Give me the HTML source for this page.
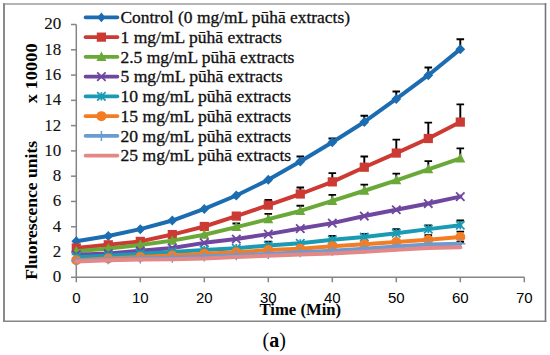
<!DOCTYPE html>
<html><head><meta charset="utf-8"><style>
html,body{margin:0;padding:0;background:#fff;}
svg{display:block;}
.yl{font-family:"Liberation Serif",serif;font-size:17px;fill:#111;stroke:#111;stroke-width:0.12px;}
.xl{font-family:"Liberation Sans",sans-serif;font-size:15px;fill:#000;}
.lg{font-family:"Liberation Serif",serif;font-size:17px;fill:#111;stroke:#111;stroke-width:0.3px;}
.yt,.xt{font-family:"Liberation Serif",serif;font-size:17px;font-weight:bold;fill:#000;}
.cap{font-family:"Liberation Serif",serif;font-size:20px;fill:#000;}
</style></head><body>
<svg width="550" height="355" viewBox="0 0 550 355">
<path d="M3 4H546.3" stroke="#b5b5b5" stroke-width="1.8"/>
<path d="M4 3.2V322.1" stroke="#8a8a8a" stroke-width="2"/>
<path d="M545.5 3.2V322.1" stroke="#767676" stroke-width="1.6"/>
<path d="M3 321.2H546.3" stroke="#858585" stroke-width="1.4"/>
<path d="M76.3 24.5V277.3H524.5" fill="none" stroke="#858585" stroke-width="1.5"/>
<path d="M71 277.30H76.3" stroke="#858585" stroke-width="1.5"/>
<text x="61.2" y="282.20" text-anchor="end" class="yl">0</text>
<path d="M71 252.02H76.3" stroke="#858585" stroke-width="1.5"/>
<text x="61.2" y="256.92" text-anchor="end" class="yl">2</text>
<path d="M71 226.74H76.3" stroke="#858585" stroke-width="1.5"/>
<text x="61.2" y="231.64" text-anchor="end" class="yl">4</text>
<path d="M71 201.46H76.3" stroke="#858585" stroke-width="1.5"/>
<text x="61.2" y="206.36" text-anchor="end" class="yl">6</text>
<path d="M71 176.18H76.3" stroke="#858585" stroke-width="1.5"/>
<text x="61.2" y="181.08" text-anchor="end" class="yl">8</text>
<path d="M71 150.90H76.3" stroke="#858585" stroke-width="1.5"/>
<text x="61.2" y="155.80" text-anchor="end" class="yl">10</text>
<path d="M71 125.62H76.3" stroke="#858585" stroke-width="1.5"/>
<text x="61.2" y="130.52" text-anchor="end" class="yl">12</text>
<path d="M71 100.34H76.3" stroke="#858585" stroke-width="1.5"/>
<text x="61.2" y="105.24" text-anchor="end" class="yl">14</text>
<path d="M71 75.06H76.3" stroke="#858585" stroke-width="1.5"/>
<text x="61.2" y="79.96" text-anchor="end" class="yl">16</text>
<path d="M71 49.78H76.3" stroke="#858585" stroke-width="1.5"/>
<text x="61.2" y="54.68" text-anchor="end" class="yl">18</text>
<path d="M71 24.50H76.3" stroke="#858585" stroke-width="1.5"/>
<text x="61.2" y="29.40" text-anchor="end" class="yl">20</text>
<path d="M76.30 277.3V282.3" stroke="#858585" stroke-width="1.5"/>
<text x="76.30" y="302.6" text-anchor="middle" class="xl">0</text>
<path d="M140.30 277.3V282.3" stroke="#858585" stroke-width="1.5"/>
<text x="140.30" y="302.6" text-anchor="middle" class="xl">10</text>
<path d="M204.30 277.3V282.3" stroke="#858585" stroke-width="1.5"/>
<text x="204.30" y="302.6" text-anchor="middle" class="xl">20</text>
<path d="M268.30 277.3V282.3" stroke="#858585" stroke-width="1.5"/>
<text x="268.30" y="302.6" text-anchor="middle" class="xl">30</text>
<path d="M332.30 277.3V282.3" stroke="#858585" stroke-width="1.5"/>
<text x="332.30" y="302.6" text-anchor="middle" class="xl">40</text>
<path d="M396.30 277.3V282.3" stroke="#858585" stroke-width="1.5"/>
<text x="396.30" y="302.6" text-anchor="middle" class="xl">50</text>
<path d="M460.30 277.3V282.3" stroke="#858585" stroke-width="1.5"/>
<text x="460.30" y="302.6" text-anchor="middle" class="xl">60</text>
<path d="M524.30 277.3V282.3" stroke="#858585" stroke-width="1.5"/>
<text x="524.30" y="302.6" text-anchor="middle" class="xl">70</text>
<path d="M300.30 161.52V156.46M296.50 156.46H304.10" stroke="#000" stroke-width="1.9" fill="none"/>
<path d="M332.30 142.18V138.51M328.50 138.51H336.10" stroke="#000" stroke-width="1.9" fill="none"/>
<path d="M364.30 121.95V115.76M360.50 115.76H368.10" stroke="#000" stroke-width="1.9" fill="none"/>
<path d="M396.30 98.95V91.49M392.50 91.49H400.10" stroke="#000" stroke-width="1.9" fill="none"/>
<path d="M428.30 75.19V67.48M424.50 67.48H432.10" stroke="#000" stroke-width="1.9" fill="none"/>
<path d="M460.30 49.15V39.29M456.50 39.29H464.10" stroke="#000" stroke-width="1.9" fill="none"/>
<polyline points="76.30,241.28 108.30,235.97 140.30,229.14 172.30,220.55 204.30,208.92 236.30,195.52 268.30,179.85 300.30,161.52 332.30,142.18 364.30,121.95 396.30,98.95 428.30,75.19 460.30,49.15" fill="none" stroke="#1c6cb1" stroke-width="4" stroke-linejoin="round" stroke-linecap="round"/>
<path d="M76.30 236.28L81.20 241.28L76.30 246.28L71.40 241.28Z" fill="#1c6cb1"/>
<path d="M108.30 230.97L113.20 235.97L108.30 240.97L103.40 235.97Z" fill="#1c6cb1"/>
<path d="M140.30 224.14L145.20 229.14L140.30 234.14L135.40 229.14Z" fill="#1c6cb1"/>
<path d="M172.30 215.55L177.20 220.55L172.30 225.55L167.40 220.55Z" fill="#1c6cb1"/>
<path d="M204.30 203.92L209.20 208.92L204.30 213.92L199.40 208.92Z" fill="#1c6cb1"/>
<path d="M236.30 190.52L241.20 195.52L236.30 200.52L231.40 195.52Z" fill="#1c6cb1"/>
<path d="M268.30 174.85L273.20 179.85L268.30 184.85L263.40 179.85Z" fill="#1c6cb1"/>
<path d="M300.30 156.52L305.20 161.52L300.30 166.52L295.40 161.52Z" fill="#1c6cb1"/>
<path d="M332.30 137.18L337.20 142.18L332.30 147.18L327.40 142.18Z" fill="#1c6cb1"/>
<path d="M364.30 116.95L369.20 121.95L364.30 126.95L359.40 121.95Z" fill="#1c6cb1"/>
<path d="M396.30 93.95L401.20 98.95L396.30 103.95L391.40 98.95Z" fill="#1c6cb1"/>
<path d="M428.30 70.19L433.20 75.19L428.30 80.19L423.40 75.19Z" fill="#1c6cb1"/>
<path d="M460.30 44.15L465.20 49.15L460.30 54.15L455.40 49.15Z" fill="#1c6cb1"/>
<path d="M268.30 205.13V200.07M264.50 200.07H272.10" stroke="#000" stroke-width="1.9" fill="none"/>
<path d="M300.30 194.00V187.56M296.50 187.56H304.10" stroke="#000" stroke-width="1.9" fill="none"/>
<path d="M332.30 181.87V173.15M328.50 173.15H336.10" stroke="#000" stroke-width="1.9" fill="none"/>
<path d="M364.30 167.21V156.46M360.50 156.46H368.10" stroke="#000" stroke-width="1.9" fill="none"/>
<path d="M396.30 153.05V139.65M392.50 139.65H400.10" stroke="#000" stroke-width="1.9" fill="none"/>
<path d="M428.30 138.51V122.59M424.50 122.59H432.10" stroke="#000" stroke-width="1.9" fill="none"/>
<path d="M460.30 122.08V104.38M456.50 104.38H464.10" stroke="#000" stroke-width="1.9" fill="none"/>
<polyline points="76.30,247.98 108.30,244.82 140.30,241.40 172.30,234.58 204.30,226.49 236.30,216.12 268.30,205.13 300.30,194.00 332.30,181.87 364.30,167.21 396.30,153.05 428.30,138.51 460.30,122.08" fill="none" stroke="#cc3a33" stroke-width="4" stroke-linejoin="round" stroke-linecap="round"/>
<rect x="71.70" y="243.38" width="9.2" height="9.2" fill="#cc3a33"/>
<rect x="103.70" y="240.22" width="9.2" height="9.2" fill="#cc3a33"/>
<rect x="135.70" y="236.80" width="9.2" height="9.2" fill="#cc3a33"/>
<rect x="167.70" y="229.98" width="9.2" height="9.2" fill="#cc3a33"/>
<rect x="199.70" y="221.89" width="9.2" height="9.2" fill="#cc3a33"/>
<rect x="231.70" y="211.52" width="9.2" height="9.2" fill="#cc3a33"/>
<rect x="263.70" y="200.53" width="9.2" height="9.2" fill="#cc3a33"/>
<rect x="295.70" y="189.40" width="9.2" height="9.2" fill="#cc3a33"/>
<rect x="327.70" y="177.27" width="9.2" height="9.2" fill="#cc3a33"/>
<rect x="359.70" y="162.61" width="9.2" height="9.2" fill="#cc3a33"/>
<rect x="391.70" y="148.45" width="9.2" height="9.2" fill="#cc3a33"/>
<rect x="423.70" y="133.91" width="9.2" height="9.2" fill="#cc3a33"/>
<rect x="455.70" y="117.48" width="9.2" height="9.2" fill="#cc3a33"/>
<path d="M236.30 227.12V223.45M232.50 223.45H240.10" stroke="#000" stroke-width="1.9" fill="none"/>
<path d="M268.30 219.16V213.85M264.50 213.85H272.10" stroke="#000" stroke-width="1.9" fill="none"/>
<path d="M300.30 210.94V205.76M296.50 205.76H304.10" stroke="#000" stroke-width="1.9" fill="none"/>
<path d="M332.30 200.95V194.89M328.50 194.89H336.10" stroke="#000" stroke-width="1.9" fill="none"/>
<path d="M364.30 190.72V184.65M360.50 184.65H368.10" stroke="#000" stroke-width="1.9" fill="none"/>
<path d="M396.30 180.35V173.65M392.50 173.65H400.10" stroke="#000" stroke-width="1.9" fill="none"/>
<path d="M428.30 169.35V161.14M424.50 161.14H432.10" stroke="#000" stroke-width="1.9" fill="none"/>
<path d="M460.30 158.48V148.37M456.50 148.37H464.10" stroke="#000" stroke-width="1.9" fill="none"/>
<polyline points="76.30,251.26 108.30,248.48 140.30,245.07 172.30,240.64 204.30,234.70 236.30,227.12 268.30,219.16 300.30,210.94 332.30,200.95 364.30,190.72 396.30,180.35 428.30,169.35 460.30,158.48" fill="none" stroke="#6aa938" stroke-width="4" stroke-linejoin="round" stroke-linecap="round"/>
<path d="M76.30 245.76L81.30 255.26L71.30 255.26Z" fill="#6aa938"/>
<path d="M108.30 242.98L113.30 252.48L103.30 252.48Z" fill="#6aa938"/>
<path d="M140.30 239.57L145.30 249.07L135.30 249.07Z" fill="#6aa938"/>
<path d="M172.30 235.14L177.30 244.64L167.30 244.64Z" fill="#6aa938"/>
<path d="M204.30 229.20L209.30 238.70L199.30 238.70Z" fill="#6aa938"/>
<path d="M236.30 221.62L241.30 231.12L231.30 231.12Z" fill="#6aa938"/>
<path d="M268.30 213.66L273.30 223.16L263.30 223.16Z" fill="#6aa938"/>
<path d="M300.30 205.44L305.30 214.94L295.30 214.94Z" fill="#6aa938"/>
<path d="M332.30 195.45L337.30 204.95L327.30 204.95Z" fill="#6aa938"/>
<path d="M364.30 185.22L369.30 194.72L359.30 194.72Z" fill="#6aa938"/>
<path d="M396.30 174.85L401.30 184.35L391.30 184.35Z" fill="#6aa938"/>
<path d="M428.30 163.85L433.30 173.35L423.30 173.35Z" fill="#6aa938"/>
<path d="M460.30 152.98L465.30 162.48L455.30 162.48Z" fill="#6aa938"/>
<polyline points="76.30,254.67 108.30,253.54 140.30,250.76 172.30,247.98 204.30,242.86 236.30,239.06 268.30,234.13 300.30,228.57 332.30,223.14 364.30,216.06 396.30,209.74 428.30,203.55 460.30,196.59" fill="none" stroke="#6f47a0" stroke-width="4" stroke-linejoin="round" stroke-linecap="round"/>
<path d="M72.10 250.47L80.50 258.87M80.50 250.47L72.10 258.87" stroke="#6f47a0" stroke-width="1.8"/>
<path d="M104.10 249.34L112.50 257.74M112.50 249.34L104.10 257.74" stroke="#6f47a0" stroke-width="1.8"/>
<path d="M136.10 246.56L144.50 254.96M144.50 246.56L136.10 254.96" stroke="#6f47a0" stroke-width="1.8"/>
<path d="M168.10 243.78L176.50 252.18M176.50 243.78L168.10 252.18" stroke="#6f47a0" stroke-width="1.8"/>
<path d="M200.10 238.66L208.50 247.06M208.50 238.66L200.10 247.06" stroke="#6f47a0" stroke-width="1.8"/>
<path d="M232.10 234.86L240.50 243.26M240.50 234.86L232.10 243.26" stroke="#6f47a0" stroke-width="1.8"/>
<path d="M264.10 229.93L272.50 238.33M272.50 229.93L264.10 238.33" stroke="#6f47a0" stroke-width="1.8"/>
<path d="M296.10 224.37L304.50 232.77M304.50 224.37L296.10 232.77" stroke="#6f47a0" stroke-width="1.8"/>
<path d="M328.10 218.94L336.50 227.34M336.50 218.94L328.10 227.34" stroke="#6f47a0" stroke-width="1.8"/>
<path d="M360.10 211.86L368.50 220.26M368.50 211.86L360.10 220.26" stroke="#6f47a0" stroke-width="1.8"/>
<path d="M392.10 205.54L400.50 213.94M400.50 205.54L392.10 213.94" stroke="#6f47a0" stroke-width="1.8"/>
<path d="M424.10 199.35L432.50 207.75M432.50 199.35L424.10 207.75" stroke="#6f47a0" stroke-width="1.8"/>
<path d="M456.10 192.39L464.50 200.79M464.50 192.39L456.10 200.79" stroke="#6f47a0" stroke-width="1.8"/>
<path d="M268.30 245.51V241.66M264.50 241.66H272.10" stroke="#000" stroke-width="1.9" fill="none"/>
<path d="M332.30 239.82V235.97M328.50 235.97H336.10" stroke="#000" stroke-width="1.9" fill="none"/>
<path d="M364.30 236.98V233.94M360.50 233.94H368.10" stroke="#000" stroke-width="1.9" fill="none"/>
<path d="M396.30 233.19V229.27M392.50 229.27H400.10" stroke="#000" stroke-width="1.9" fill="none"/>
<path d="M428.30 229.14V225.48M424.50 225.48H432.10" stroke="#000" stroke-width="1.9" fill="none"/>
<path d="M460.30 225.22V220.55M456.50 220.55H464.10" stroke="#000" stroke-width="1.9" fill="none"/>
<polyline points="76.30,256.95 108.30,255.81 140.30,253.66 172.30,251.89 204.30,249.93 236.30,248.29 268.30,245.51 300.30,243.36 332.30,239.82 364.30,236.98 396.30,233.19 428.30,229.14 460.30,225.22" fill="none" stroke="#1a9bb4" stroke-width="4" stroke-linejoin="round" stroke-linecap="round"/>
<path d="M72.10 252.75L80.50 261.15M80.50 252.75L72.10 261.15M76.30 252.75L76.30 261.15" stroke="#1a9bb4" stroke-width="1.8"/>
<path d="M104.10 251.61L112.50 260.01M112.50 251.61L104.10 260.01M108.30 251.61L108.30 260.01" stroke="#1a9bb4" stroke-width="1.8"/>
<path d="M136.10 249.46L144.50 257.86M144.50 249.46L136.10 257.86M140.30 249.46L140.30 257.86" stroke="#1a9bb4" stroke-width="1.8"/>
<path d="M168.10 247.69L176.50 256.09M176.50 247.69L168.10 256.09M172.30 247.69L172.30 256.09" stroke="#1a9bb4" stroke-width="1.8"/>
<path d="M200.10 245.73L208.50 254.13M208.50 245.73L200.10 254.13M204.30 245.73L204.30 254.13" stroke="#1a9bb4" stroke-width="1.8"/>
<path d="M232.10 244.09L240.50 252.49M240.50 244.09L232.10 252.49M236.30 244.09L236.30 252.49" stroke="#1a9bb4" stroke-width="1.8"/>
<path d="M264.10 241.31L272.50 249.71M272.50 241.31L264.10 249.71M268.30 241.31L268.30 249.71" stroke="#1a9bb4" stroke-width="1.8"/>
<path d="M296.10 239.16L304.50 247.56M304.50 239.16L296.10 247.56M300.30 239.16L300.30 247.56" stroke="#1a9bb4" stroke-width="1.8"/>
<path d="M328.10 235.62L336.50 244.02M336.50 235.62L328.10 244.02M332.30 235.62L332.30 244.02" stroke="#1a9bb4" stroke-width="1.8"/>
<path d="M360.10 232.78L368.50 241.18M368.50 232.78L360.10 241.18M364.30 232.78L364.30 241.18" stroke="#1a9bb4" stroke-width="1.8"/>
<path d="M392.10 228.99L400.50 237.39M400.50 228.99L392.10 237.39M396.30 228.99L396.30 237.39" stroke="#1a9bb4" stroke-width="1.8"/>
<path d="M424.10 224.94L432.50 233.34M432.50 224.94L424.10 233.34M428.30 224.94L428.30 233.34" stroke="#1a9bb4" stroke-width="1.8"/>
<path d="M456.10 221.02L464.50 229.42M464.50 221.02L456.10 229.42M460.30 221.02L460.30 229.42" stroke="#1a9bb4" stroke-width="1.8"/>
<path d="M428.30 239.82V235.21M424.50 235.21H432.10" stroke="#000" stroke-width="1.9" fill="none"/>
<path d="M460.30 237.04V231.67M456.50 231.67H464.10" stroke="#000" stroke-width="1.9" fill="none"/>
<polyline points="76.30,260.24 108.30,258.47 140.30,257.08 172.30,255.56 204.30,253.73 236.30,252.21 268.30,250.06 300.30,248.67 332.30,246.27 364.30,244.25 396.30,241.97 428.30,239.82 460.30,237.04" fill="none" stroke="#f47d24" stroke-width="4" stroke-linejoin="round" stroke-linecap="round"/>
<circle cx="76.30" cy="260.24" r="5" fill="#f47d24"/>
<circle cx="108.30" cy="258.47" r="5" fill="#f47d24"/>
<circle cx="140.30" cy="257.08" r="5" fill="#f47d24"/>
<circle cx="172.30" cy="255.56" r="5" fill="#f47d24"/>
<circle cx="204.30" cy="253.73" r="5" fill="#f47d24"/>
<circle cx="236.30" cy="252.21" r="5" fill="#f47d24"/>
<circle cx="268.30" cy="250.06" r="5" fill="#f47d24"/>
<circle cx="300.30" cy="248.67" r="5" fill="#f47d24"/>
<circle cx="332.30" cy="246.27" r="5" fill="#f47d24"/>
<circle cx="364.30" cy="244.25" r="5" fill="#f47d24"/>
<circle cx="396.30" cy="241.97" r="5" fill="#f47d24"/>
<circle cx="428.30" cy="239.82" r="5" fill="#f47d24"/>
<circle cx="460.30" cy="237.04" r="5" fill="#f47d24"/>
<path d="M460.30 243.80V241.91M456.50 241.91H464.10" stroke="#000" stroke-width="1.9" fill="none"/>
<polyline points="76.30,260.87 108.30,259.35 140.30,258.59 172.30,257.71 204.30,256.44 236.30,255.18 268.30,253.92 300.30,252.15 332.30,250.76 364.30,248.86 396.30,246.58 428.30,244.56 460.30,243.80" fill="none" stroke="#6a9bd3" stroke-width="4" stroke-linejoin="round" stroke-linecap="round"/>
<path d="M76.30 255.87L76.30 265.87M71.30 260.87L81.30 260.87" stroke="#6a9bd3" stroke-width="1.5"/>
<path d="M108.30 254.35L108.30 264.35M103.30 259.35L113.30 259.35" stroke="#6a9bd3" stroke-width="1.5"/>
<path d="M140.30 253.59L140.30 263.59M135.30 258.59L145.30 258.59" stroke="#6a9bd3" stroke-width="1.5"/>
<path d="M172.30 252.71L172.30 262.71M167.30 257.71L177.30 257.71" stroke="#6a9bd3" stroke-width="1.5"/>
<path d="M204.30 251.44L204.30 261.44M199.30 256.44L209.30 256.44" stroke="#6a9bd3" stroke-width="1.5"/>
<path d="M236.30 250.18L236.30 260.18M231.30 255.18L241.30 255.18" stroke="#6a9bd3" stroke-width="1.5"/>
<path d="M268.30 248.92L268.30 258.92M263.30 253.92L273.30 253.92" stroke="#6a9bd3" stroke-width="1.5"/>
<path d="M300.30 247.15L300.30 257.15M295.30 252.15L305.30 252.15" stroke="#6a9bd3" stroke-width="1.5"/>
<path d="M332.30 245.76L332.30 255.76M327.30 250.76L337.30 250.76" stroke="#6a9bd3" stroke-width="1.5"/>
<path d="M364.30 243.86L364.30 253.86M359.30 248.86L369.30 248.86" stroke="#6a9bd3" stroke-width="1.5"/>
<path d="M396.30 241.58L396.30 251.58M391.30 246.58L401.30 246.58" stroke="#6a9bd3" stroke-width="1.5"/>
<path d="M428.30 239.56L428.30 249.56M423.30 244.56L433.30 244.56" stroke="#6a9bd3" stroke-width="1.5"/>
<path d="M460.30 238.80L460.30 248.80M455.30 243.80L465.30 243.80" stroke="#6a9bd3" stroke-width="1.5"/>
<polyline points="76.30,261.50 108.30,260.36 140.30,259.48 172.30,259.22 204.30,258.59 236.30,257.08 268.30,255.69 300.30,254.42 332.30,253.41 364.30,251.64 396.30,249.87 428.30,248.10 460.30,247.34" fill="none" stroke="#e38886" stroke-width="4" stroke-linejoin="round" stroke-linecap="round"/>













<path d="M85.5 17.40H117.5" stroke="#1c6cb1" stroke-width="3.6" stroke-linecap="round"/>
<path d="M101.40 12.60L105.50 17.40L101.40 22.20L97.30 17.40Z" fill="#1c6cb1"/>
<text x="120.50" y="23.20" class="lg" textLength="229.50" lengthAdjust="spacingAndGlyphs">Control (0 mg/mL pūhā extracts)</text>
<path d="M85.5 37.15H117.5" stroke="#cc3a33" stroke-width="3.6" stroke-linecap="round"/>
<rect x="96.80" y="32.55" width="9.2" height="9.2" fill="#cc3a33"/>
<text x="120.50" y="42.95" class="lg" textLength="161.40" lengthAdjust="spacingAndGlyphs">1 mg/mL pūhā extracts</text>
<path d="M85.5 56.90H117.5" stroke="#6aa938" stroke-width="3.6" stroke-linecap="round"/>
<path d="M101.40 51.40L106.40 60.90L96.40 60.90Z" fill="#6aa938"/>
<text x="120.50" y="62.70" class="lg" textLength="173.80" lengthAdjust="spacingAndGlyphs">2.5 mg/mL pūhā extracts</text>
<path d="M85.5 76.65H117.5" stroke="#6f47a0" stroke-width="3.6" stroke-linecap="round"/>
<path d="M97.20 72.45L105.60 80.85M105.60 72.45L97.20 80.85" stroke="#6f47a0" stroke-width="1.8"/>
<text x="120.50" y="82.45" class="lg" textLength="162.00" lengthAdjust="spacingAndGlyphs">5 mg/mL pūhā extracts</text>
<path d="M85.5 96.40H117.5" stroke="#1a9bb4" stroke-width="3.6" stroke-linecap="round"/>
<path d="M97.20 92.20L105.60 100.60M105.60 92.20L97.20 100.60M101.40 92.20L101.40 100.60" stroke="#1a9bb4" stroke-width="1.8"/>
<text x="120.50" y="102.20" class="lg" textLength="170.70" lengthAdjust="spacingAndGlyphs">10 mg/mL pūhā extracts</text>
<path d="M85.5 116.15H117.5" stroke="#f47d24" stroke-width="3.6" stroke-linecap="round"/>
<circle cx="101.40" cy="116.15" r="5" fill="#f47d24"/>
<text x="120.50" y="121.95" class="lg" textLength="170.70" lengthAdjust="spacingAndGlyphs">15 mg/mL pūhā extracts</text>
<path d="M85.5 135.90H117.5" stroke="#6a9bd3" stroke-width="3.6" stroke-linecap="round"/>
<path d="M101.40 130.90L101.40 140.90M96.40 135.90L106.40 135.90" stroke="#6a9bd3" stroke-width="1.5"/>
<text x="120.50" y="141.70" class="lg" textLength="170.70" lengthAdjust="spacingAndGlyphs">20 mg/mL pūhā extracts</text>
<path d="M85.5 155.65H117.5" stroke="#e38886" stroke-width="3.6" stroke-linecap="round"/>

<text x="120.50" y="161.45" class="lg" textLength="170.70" lengthAdjust="spacingAndGlyphs">25 mg/mL pūhā extracts</text>
<text transform="translate(36.9 279.8) rotate(-90)" class="yt" textLength="139" lengthAdjust="spacingAndGlyphs">Fluorescence units</text>
<text transform="translate(36.9 103.2) rotate(-90)" class="yt" textLength="59.8" lengthAdjust="spacingAndGlyphs">x 10000</text>
<text x="259.5" y="315.2" class="xt" textLength="81.6" lengthAdjust="spacingAndGlyphs">Time (Min)</text>
<text x="262.6" y="346.6" class="cap">(<tspan font-weight="bold">a</tspan>)</text>
</svg>
</body></html>
